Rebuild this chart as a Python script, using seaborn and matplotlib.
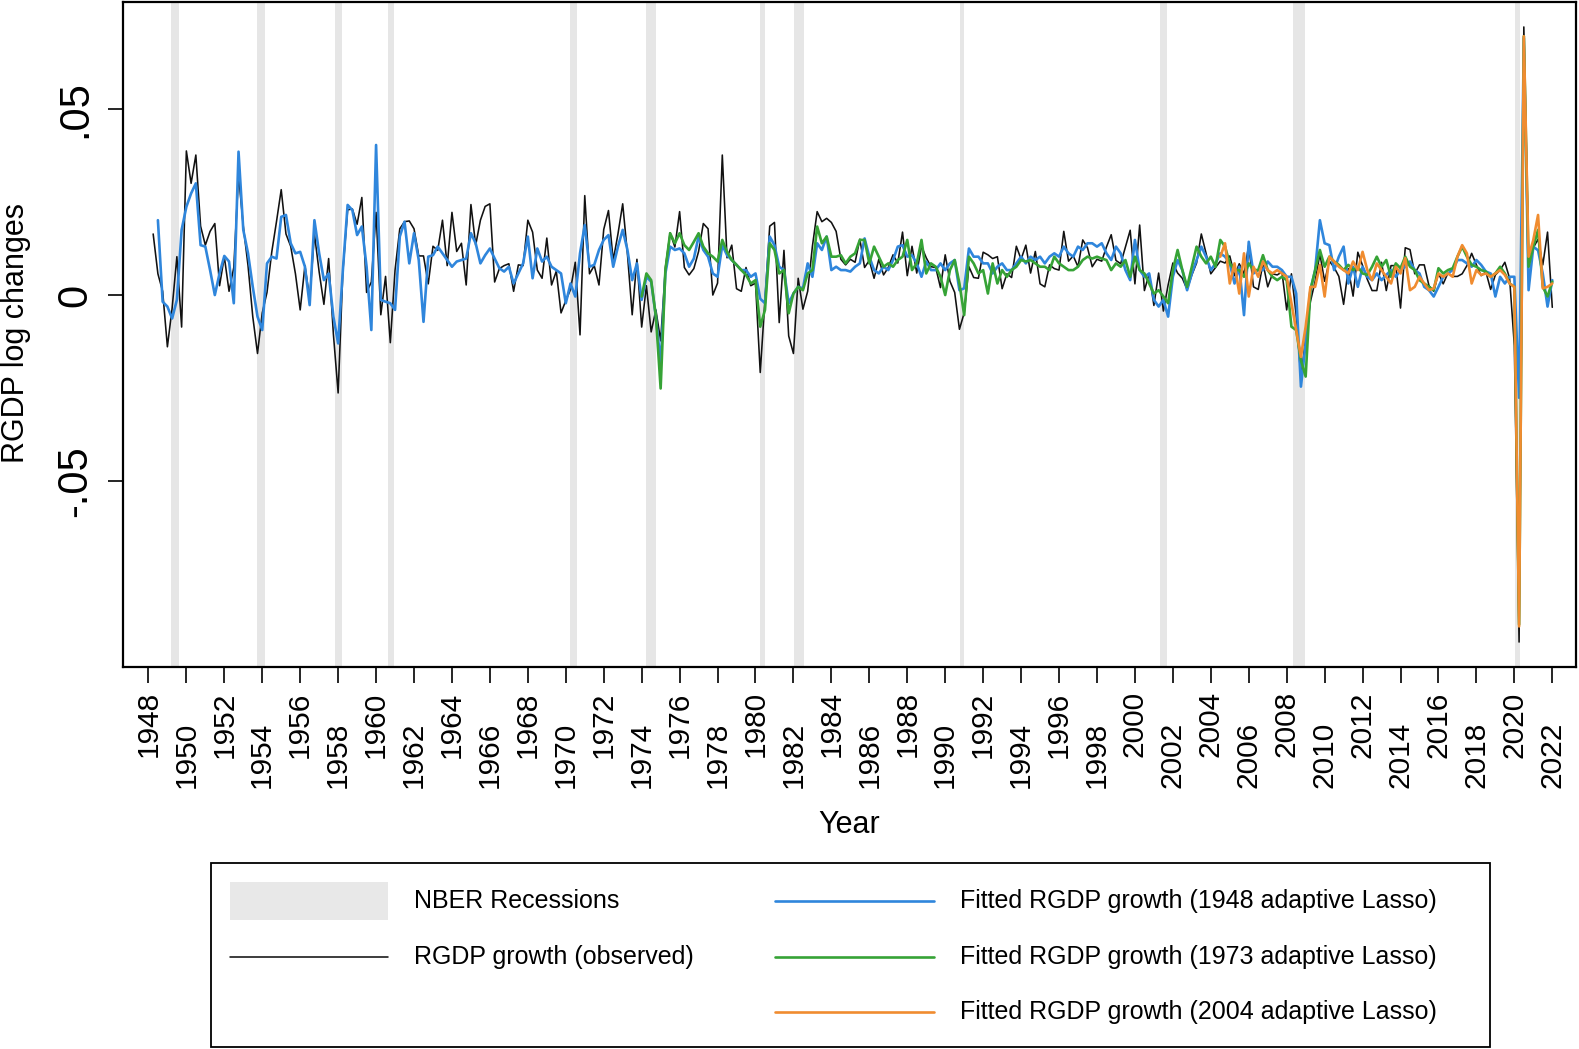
import matplotlib
matplotlib.use("Agg")
import numpy as np
import pandas as pd
import matplotlib.pyplot as plt
import seaborn as sns
from matplotlib.patches import Rectangle
from matplotlib.lines import Line2D

# ---------------- data: quarterly log changes of real GDP, in percent ----------------
obs_start = "1948Q2"
rgdp_obs = [
    1.64, 0.57, 0.10,
    -1.39, -0.35, 1.03, -0.86,
    3.87, 3.00, 3.76, 1.85,
    1.34, 1.71, 1.92, 0.25,
    1.03, 0.10, 0.74, 3.23,
    1.85, 0.79, -0.58, -1.57,
    -0.48, 0.07, 1.15, 1.97,
    2.83, 1.64, 1.31, 0.57,
    -0.40, 0.79, -0.10, 1.64,
    0.62, -0.25, 0.98, -1.05,
    -2.63, 0.64, 2.29, 2.31,
    1.90, 2.62, 0.07, 0.35,
    2.22, -0.53, 0.50, -1.28,
    0.67, 1.78, 1.97, 1.99,
    1.78, 1.05, 1.05, 0.30,
    1.31, 1.20, 2.01, 0.79,
    2.22, 1.17, 1.39, 0.27,
    2.43, 1.34, 2.01, 2.38,
    2.45, 0.35, 0.71, 0.79,
    0.84, 0.10, 0.81, 0.79,
    2.01, 1.69, 0.67, 0.45,
    1.53, 0.27, 0.64, -0.48,
    -0.15, 0.15, 0.88, -1.07,
    2.67, 0.57, 0.79, 0.27,
    1.76, 2.27, 0.93, 1.64,
    2.45, 1.10, -0.53, 0.96,
    -0.86, 0.25, -0.99, -0.40,
    -1.23, 0.74, 1.67, 1.29,
    2.24, 0.74, 0.54, 0.71,
    1.17, 1.92, 1.78, 0.00,
    0.32, 3.76, 1.00, 1.34,
    0.17, 0.10, 0.74, 0.25,
    0.32, -2.08, -0.13, 1.85,
    1.95, -0.74, 1.20, -1.10,
    -1.57, 0.45, -0.38, 0.10,
    1.31, 2.24, 1.97, 2.06,
    1.95, 1.71, 0.96, 0.81,
    0.96, 0.88, 1.50, 0.74,
    0.93, 0.45, 0.96, 0.54,
    0.74, 1.08, 0.86, 1.69,
    0.52, 1.31, 0.59, 1.31,
    1.00, 0.76, 0.74, 0.20,
    1.08, 0.37, 0.07, -0.92,
    -0.48, 0.76, 0.47, 0.45,
    1.15, 1.08, 0.98, 1.03,
    0.17, 0.57, 0.47, 1.31,
    0.96, 1.34, 0.59, 1.17,
    0.30, 0.22, 0.81, 0.71,
    0.67, 1.71, 0.91, 1.05,
    0.76, 1.48, 1.27, 0.76,
    0.96, 0.91, 1.29, 1.62,
    0.93, 0.84, 1.29, 1.74,
    0.30, 1.88, 0.12, 0.57,
    -0.28, 0.59, -0.43, 0.27,
    0.86, 0.59, 0.45, 0.15,
    0.54, 0.86, 1.64, 1.12,
    0.57, 0.74, 0.91, 0.86,
    1.05, 0.52, 0.84, 0.57,
    1.34, 0.22, 0.15, 0.86,
    0.22, 0.57, 0.54, 0.62,
    -0.40, 0.57, -0.53, -2.22,
    -1.18, -0.18, 0.37, 1.10,
    0.37, 0.91, 0.74, 0.50,
    -0.25, 0.71, -0.03, 1.15,
    0.79, 0.42, 0.12, 0.12,
    0.88, 0.12, 0.79, 0.79,
    -0.35, 1.27, 1.22, 0.57,
    0.81, 0.81, 0.25, 0.10,
    0.59, 0.30, 0.59, 0.50,
    0.50, 0.57, 0.79, 1.12,
    0.81, 0.52, 0.62, 0.15,
    0.54, 0.67, 0.88, 0.45,
    -1.36, -9.32, 7.20, 1.03,
    1.27, 1.50, 0.81, 1.69,
    -0.33,
]

fit1948_start = "1948Q3"
fit1948 = [
    2.01, -0.18, -0.31, -0.63, -0.13, 1.75, 2.37, 2.73, 3.00, 1.34,
    1.30, 0.67, 0.00, 0.58, 1.05, 0.90, -0.22, 3.85, 1.75, 1.12,
    0.22, -0.58, -0.94, 0.85, 1.03, 0.98, 2.10, 2.15, 1.39, 1.12,
    1.16, 0.76, -0.27, 2.01, 1.12, 0.40, 0.58, -0.58, -1.30, 0.67,
    2.42, 2.28, 1.61, 1.84, 0.76, -0.94,
    4.03, -0.13, -0.18, -0.22, -0.40, 1.57, 1.97, 0.85, 1.66, 0.94,
    -0.72, 1.03, 1.07, 1.30, 1.12, 0.94, 0.76, 0.90, 0.94, 0.98,
    1.66, 1.39, 0.85, 1.07, 1.25, 0.98, 0.72, 0.63, 0.76, 0.31,
    0.58, 0.85, 1.57, 0.45, 1.25, 0.90, 1.03, 0.76, 0.67, 0.58,
    -0.22, 0.31, -0.04, 1.12, 1.88, 0.76, 0.81, 1.21, 1.48, 1.61,
    0.76, 1.30, 1.75, 1.21, 0.40, 0.85, -0.13, 0.49, 0.36, -0.58,
    -1.84, 0.58, 1.30, 1.21, 1.25, 1.12, 0.76, 0.98, 1.57, 1.21,
    1.03, 0.58, 0.49, 1.34, 1.07, 0.94, 0.81, 0.67, 0.67, 0.49,
    0.58, -0.10, -0.22, 1.57, 1.34, 0.76, 0.67, -0.22, 0.04, 0.22,
    0.18, 0.85, 0.49, 1.39, 1.21, 1.57, 0.67, 0.76, 0.67,
    0.67, 0.63, 0.76, 0.85, 1.52, 1.03, 0.67, 0.58, 0.76, 0.67,
    0.94, 1.30, 1.34, 1.03, 1.07, 0.85, 0.49, 0.90, 0.67, 0.67,
    0.85, 0.67, 0.85, 0.94, 0.13, 0.18, 1.25, 1.03, 1.03, 0.85,
    0.85, 0.58, 0.76, 0.85, 0.67, 0.67, 0.85, 1.03, 0.85, 1.03,
    0.94, 1.03, 0.85, 1.03, 1.12, 1.03, 1.30, 1.12, 1.03, 1.30,
    1.21, 1.39, 1.39,
    1.30, 1.39, 1.12, 0.94, 1.30, 1.12, 0.67, 0.40, 1.48, 0.67,
    0.49, 0.58, -0.13, -0.31, -0.13, -0.58, 0.49, 0.94, 0.67, 0.13,
    0.58, 0.94, 1.30, 1.03, 0.67, 0.85, 1.12, 1.03, 0.85, 0.31,
    0.76, -0.54, 1.43, 0.58, 0.67, 0.67, 0.90, 0.76, 0.76, 0.67,
    0.49, 0.49, 0.04, -2.46, -1.30, 0.13, 0.67, 2.01, 1.39, 1.34,
    0.67, 1.03, 1.30, 0.31, 0.76, 0.22, 0.76, 0.49, 0.40, 0.58,
    0.40, 0.54, 0.67, 0.49, 0.67, 0.76, 0.90, 0.67, 0.58, 0.22,
    0.13, -0.04, 0.22, 0.49, 0.58, 0.67, 0.94, 0.94, 0.85, 0.76,
    0.94, 0.81, 0.63, 0.58, -0.04, 0.49, 0.31, 0.49, 0.49,
    -2.76, 6.90, 0.13, 1.30, 1.20, 0.57, -0.31, 0.40,
]

fit1973_start = "1974Q1"
fit1973 = [
    -0.04, 0.58, 0.40, -0.58, -2.51, 0.67, 1.66, 1.39, 1.66, 1.34,
    1.21, 1.43, 1.66, 1.30, 1.12, 1.03, 0.90, 1.48, 1.16, 0.94,
    0.81, 0.67, 0.54, 0.31, 0.40, -0.85, -0.40, 1.39, 1.21, 0.58,
    0.67, -0.49, 0.04, 0.22, 0.13, 0.58, 0.67, 1.84, 1.39, 1.57,
    1.03, 1.03, 1.07,
    0.85, 1.03, 1.12, 1.48, 1.48, 0.85, 1.30, 1.03, 0.76, 0.85,
    0.76, 0.94, 1.03, 1.48, 0.67, 0.85, 1.48, 0.58, 0.85, 0.76,
    0.49, 0.00, 0.67, 0.94, 0.31, -0.54, 1.03, 0.85, 0.58, 0.67,
    0.04, 0.85, 0.31, 0.67, 0.49, 0.67, 0.76, 0.94, 0.90, 0.94,
    0.85, 0.76, 0.76, 0.67, 1.03, 0.85, 0.76, 0.67, 0.67, 0.76,
    0.94, 1.03, 0.98,
    1.03, 0.98, 0.94, 0.67, 0.85, 0.76, 0.94, 0.49, 1.03, 0.67,
    0.58, 0.31, 0.04, 0.13, -0.04, -0.22, 0.67, 1.21, 0.67, 0.22,
    0.76, 1.30, 1.03, 0.85, 1.03, 0.76, 1.48, 1.30, 0.85, 0.67,
    0.67, 0.49, 0.85, 0.67, 0.67, 1.07, 0.67, 0.49, 0.40, 0.49,
    0.40, -0.85, -0.94, -1.75, -2.19, 0.13, 0.67, 1.21, 0.76, 1.03,
    0.90, 0.81, 0.67, 0.81, 0.67, 0.76, 0.58, 0.54, 0.76, 1.03,
    0.76, 0.94, 0.49, 0.85, 0.72, 1.03, 0.76, 0.67, 0.40, 0.31,
    0.22, 0.13, 0.72, 0.58, 0.67, 0.72, 1.03, 1.30, 1.03, 0.81,
    0.76, 0.67, 0.63, 0.49, 0.58, 0.76, 0.58, 0.31, 0.22,
    -8.85, 6.95, 0.76, 1.30, 1.75, 0.22, -0.04, 0.36,
]

fit2004_start = "2004Q3"
fit2004 = [
    1.03, 1.39, 0.31, 0.85, 0.04, 1.12, -0.04, 0.76, 0.49, 0.90,
    0.67, 0.58, 0.67, 0.58, 0.49, -0.22, -0.94, -1.66, -0.85, 0.22,
    0.22, 0.81, -0.04, 1.03, 0.90, 0.76, 0.67, 0.58, 0.90, 0.67,
    1.16, 0.67, 0.40, 0.85, 0.67, 0.49, 0.31, 0.76, 0.58, 0.99,
    0.13, 0.22, 0.49, 0.31, 0.13, 0.18, 0.58, 0.49, 0.58, 0.49,
    1.03, 1.34, 1.12, 0.31, 0.67, 0.54, 0.58, 0.49, 0.58, 0.67,
    0.54, 0.31, 0.22,
    -8.90, 6.95, 1.03, 1.48, 2.15, 0.18, 0.22, 0.31,
]

# NBER recession shading as drawn in the chart (start, end in years)
rec_start = [1949.19, 1953.72, 1957.85, 1960.63, 1970.24, 1974.24,
             1980.24, 1982.01, 1990.78, 2001.32, 2008.32, 2020.04]
rec_end = [1949.61, 1954.13, 1958.20, 1960.93, 1970.59, 1974.77,
           1980.50, 1982.54, 1990.99, 2001.69, 2008.95, 2020.30]

ytick_vals = [-0.05, 0.0, 0.05]
ytick_labels = ["-.05", "0", ".05"]
xtick_years_upper = list(range(1948, 2021, 4))
xtick_years_lower = list(range(1950, 2023, 4))

label_rec = "NBER Recessions"
label_obs = "RGDP growth (observed)"
label_1948 = "Fitted RGDP growth (1948 adaptive Lasso)"
label_1973 = "Fitted RGDP growth (1973 adaptive Lasso)"
label_2004 = "Fitted RGDP growth (2004 adaptive Lasso)"

# ---------------- styling ----------------
C_OBS = "#111111"
C_1948 = "#2f86dc"
C_1973 = "#36a336"
C_2004 = "#f08c30"
C_REC = "#e6e6e6"

sns.set_theme(style="ticks")
plt.rcParams["font.family"] = ["Liberation Sans", "DejaVu Sans"]
plt.rcParams["text.color"] = "black"
plt.rcParams["axes.labelcolor"] = "black"
plt.rcParams["xtick.color"] = "black"
plt.rcParams["ytick.color"] = "black"


def quarter_frame(start, values):
    p = pd.period_range(start=pd.Period(start, freq="Q"), periods=len(values), freq="Q")
    t = p.year + (p.quarter - 1) / 4.0
    return pd.DataFrame({"t": np.asarray(t, dtype=float), "g": np.asarray(values) / 100.0})


W, H = 1579, 1049
fig = plt.figure(figsize=(W / 100, H / 100), dpi=100)
L, R, T, B = 123, 1576, 2, 667
ax = fig.add_axes([L / W, 1 - B / H, (R - L) / W, (B - T) / H])
ax.set_facecolor("white")

for s, e in zip(rec_start, rec_end):
    ax.axvspan(s, e, color=C_REC, lw=0, zorder=0)

series = [
    (obs_start, rgdp_obs, C_OBS, 1.15, 2),
    (fit1948_start, fit1948, C_1948, 1.9, 3),
    (fit1973_start, fit1973, C_1973, 1.9, 4),
    (fit2004_start, fit2004, C_2004, 1.9, 5),
]
for start, vals, col, lw, z in series:
    df = quarter_frame(start, vals)
    sns.lineplot(data=df, x="t", y="g", ax=ax, color=col, linewidth=lw,
                 estimator=None, legend=False, zorder=z)

ax.set_xlim(1946.66, 2023.25)
ax.set_ylim(-0.0999, 0.0787)

for sp in ax.spines.values():
    sp.set_visible(True)
    sp.set_color("black")
    sp.set_linewidth(1.6)

ax.set_yticks(ytick_vals)
ax.set_yticklabels(ytick_labels, rotation=90, va="center", fontsize=30, color="black")
ax.tick_params(axis="y", which="major", length=11, width=1.2, pad=9,
               direction="out", left=True, colors="black")

ax.set_xticks(xtick_years_upper)
ax.set_xticklabels([str(y) for y in xtick_years_upper], rotation=90, fontsize=21.5, color="black")
ax.set_xticks(xtick_years_lower, minor=True)
ax.set_xticklabels([str(y) for y in xtick_years_lower], minor=True, rotation=90, fontsize=21.5,
                   color="black")
ax.tick_params(axis="x", which="major", length=11.5, width=1.2, pad=6, direction="out",
               bottom=True, colors="black")
ax.tick_params(axis="x", which="minor", length=11.5, width=1.2, pad=28, direction="out",
               bottom=True, colors="black")
ax.grid(False)

ax.set_xlabel("Year", fontsize=22, color="black")
ax.xaxis.label.set_va("center")
ax.xaxis.set_label_coords(0.5, (B - 825) / (B - T))
ax.set_ylabel("RGDP log changes", fontsize=22, color="black")
ax.yaxis.label.set_va("center")
ax.yaxis.set_label_coords((16 - L) / (R - L), (B - 333) / (B - T))

# ---------------- legend (drawn in figure pixel space) ----------------
lax = fig.add_axes([0, 0, 1, 1])
lax.set_xlim(0, W)
lax.set_ylim(H, 0)
lax.axis("off")
lax.patch.set_alpha(0)
lax.add_patch(Rectangle((211, 863), 1279, 184, fill=False, ec="black", lw=1.3))
lax.add_patch(Rectangle((230, 882), 158, 38, fc="#e8e8e8", ec="none"))
lax.add_line(Line2D([230, 388], [957, 957], color=C_OBS, lw=1.15))
lax.add_line(Line2D([775, 934], [901, 901], color=C_1948, lw=1.9))
lax.add_line(Line2D([775, 934], [957, 957], color=C_1973, lw=1.9))
lax.add_line(Line2D([775, 934], [1012, 1012], color=C_2004, lw=1.9))
fs_leg = 18
lax.text(414, 901, label_rec, fontsize=fs_leg, va="center", ha="left", color="black")
lax.text(414, 957, label_obs, fontsize=fs_leg, va="center", ha="left", color="black")
lax.text(960, 901, label_1948, fontsize=fs_leg, va="center", ha="left", color="black")
lax.text(960, 957, label_1973, fontsize=fs_leg, va="center", ha="left", color="black")
lax.text(960, 1012, label_2004, fontsize=fs_leg, va="center", ha="left", color="black")

fig.savefig("out.png", dpi=100, facecolor="white")
